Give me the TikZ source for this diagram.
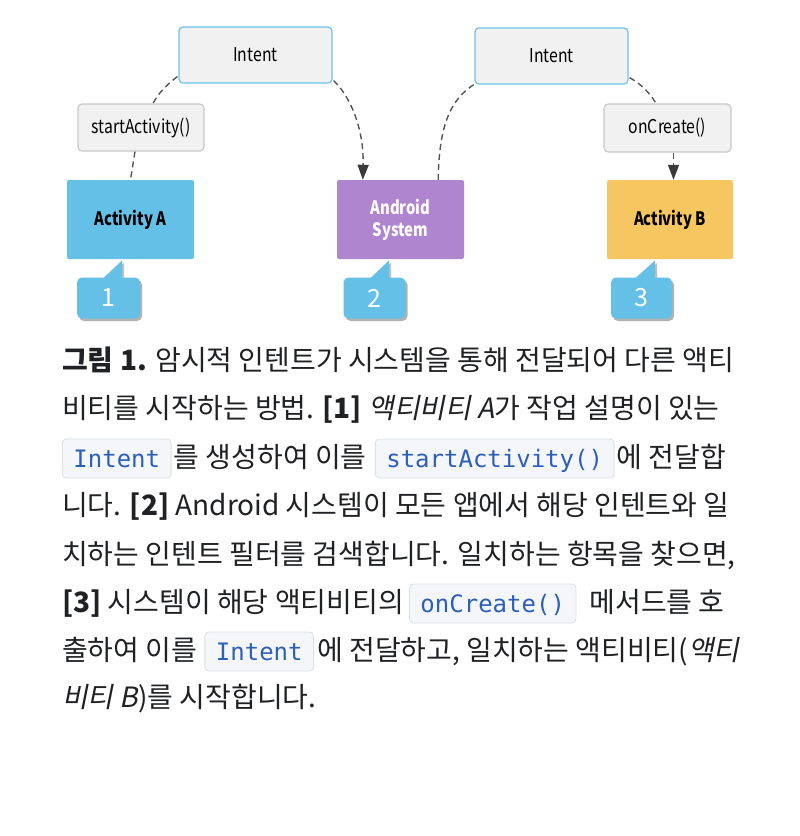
\documentclass[tikz,border=0pt]{standalone}
\usepackage{graphicx}
\usepackage{fontspec}
\setmainfont{Noto Sans CJK KR}
\newfontfamily\slfont[FakeSlant=0.2]{Noto Sans CJK KR}
\newfontfamily\codemono{DejaVu Sans Mono}
\usetikzlibrary{arrows.meta,shadows,calc}
\definecolor{ink}{HTML}{202124}
\definecolor{boxgray}{HTML}{F1F1F1}
\definecolor{intentborder}{HTML}{6CC3E9}
\definecolor{grayborder}{HTML}{C9C9C9}
\definecolor{actAcol}{HTML}{65C0E7}
\definecolor{syscol}{HTML}{B085CF}
\definecolor{actBcol}{HTML}{F6C661}
\definecolor{conncol}{HTML}{555555}
\definecolor{tipcol}{HTML}{3A3A3A}
\definecolor{codebg}{HTML}{F4F6F9}
\definecolor{codeborder}{HTML}{DDE0E5}
\definecolor{codeblue}{HTML}{2B5FB8}
\newcommand\bodyhs{1.0}
\newcommand\bodyfont{\fontsize{28}{34}\selectfont}
\newcommand\bl[1]{\scalebox{\bodyhs}[1]{#1}}
\newcommand\dl[1]{\scalebox{0.83}[1]{#1}}
\newcommand\db[1]{\scalebox{0.8}[1]{#1}}
\tikzset{
  dlabel/.style={font=\fontsize{19}{22}\selectfont, text=black, inner sep=0},
  intentbox/.style={dlabel, draw=intentborder, fill=boxgray, rounded corners=4pt, line width=1.2pt, minimum width=153pt, minimum height=56pt},
  methodbox/.style={dlabel, draw=grayborder, fill=boxgray, rounded corners=4pt, line width=1.2pt, minimum width=126pt, minimum height=47pt},
  actbox/.style={inner sep=0, rounded corners=2pt, minimum width=127pt, minimum height=79pt, align=center, font=\bfseries\fontsize{18.5}{22}\selectfont},
  callbox/.style={fill=actAcol, rounded corners=5pt, minimum width=62pt, minimum height=41pt, inner sep=0, text=white, font=\fontsize{25}{28}\selectfont, drop shadow={shadow xshift=2pt, shadow yshift=-2.5pt, opacity=0.3, fill=black}},
  calltail/.style={fill=actAcol, drop shadow={shadow xshift=2pt, shadow yshift=-2.5pt, opacity=0.25, fill=black}},
  conn/.style={draw=conncol, line width=1.4pt, dash pattern=on 6pt off 4pt},
  arr/.style={-{Triangle[width=11pt,length=15pt,fill=tipcol,color=tipcol]}},
  txt/.style={inner sep=0, anchor=base west, text=ink, font=\bodyfont},
  code/.style={anchor=base west, draw=codeborder, fill=codebg, rounded corners=4pt, line width=0.9pt, text=codeblue, font=\codemono\fontsize{24}{28}\selectfont, inner xsep=11pt, inner ysep=0, text height=28pt, text depth=11pt}
}
\begin{document}
\begin{tikzpicture}[x=1pt,y=-1pt]
\fill[white] (0,0) rectangle (800,836);
\useasboundingbox (0,0) rectangle (800,836);

% diagram boxes
\node[intentbox] (int1) at (255.5,55) {\dl{Intent}};
\node[methodbox] (sa) at (141,127.5) {\dl{startActivity()}};
\node[actbox, fill=actAcol, text=black] (actA) at (130.5,219.5) {\db{Activity A}};
\node[actbox, fill=syscol, text=white] (sys) at (400.5,219.5) {\db{Android}\\\db{System}};
\node[intentbox] (int2) at (551.5,56) {\dl{Intent}};
\node[methodbox, minimum width=127pt, minimum height=48pt] (oc) at (667.5,128) {\dl{onCreate()}};
\node[actbox, fill=actBcol, text=black, minimum width=126pt] (actB) at (670,219.5) {\db{Activity B}};

% callouts
\coordinate (p1) at (108.5,298);
\coordinate (p2) at (374.5,298);
\coordinate (p3) at (641.5,298);
\fill[calltail] ($(p1)+(-5.5,-19.5)$) -- ($(p1)+(13.5,-37.5)$) -- ($(p1)+(13.5,-19.5)$) -- cycle;
\fill[calltail] ($(p2)+(-4.5,-19.5)$) -- ($(p2)+(14.5,-37.5)$) -- ($(p2)+(14.5,-19.5)$) -- cycle;
\fill[calltail] ($(p3)+(-6.5,-19.5)$) -- ($(p3)+(13.5,-37.5)$) -- ($(p3)+(13.5,-19.5)$) -- cycle;
\node[callbox, minimum width=63pt] (n1) at (p1) {1};
\node[callbox] (n2) at (p2) {2};
\node[callbox, minimum width=61pt] (n3) at (p3) {3};

% connectors
\draw[conn] ($(int1.south west)+(-1,-7)$) .. controls (166,85) and (158,94) .. ($(sa.north)+(12,0)$);
\draw[conn] ($(sa.south)+(-6,0)$) -- (actA.north);
\draw[conn, arr] ($(int1.south east)+(1,-3)$) .. controls (350,96) and (364,128) .. ($(sys.north west)+(26,0)$);
\draw[conn] ($(sys.north east)+(-26,0)$) .. controls (439,126) and (450,99) .. ($(int2.south west)+(1,-1)$);
\draw[conn] ($(int2.south east)+(1,-7)$) .. controls (641,84) and (650,93) .. ($(oc.north)+(-11.5,0)$);
\draw[conn, arr] ($(oc.south)+(6,0)$) -- ($(actB.north)+(3.5,0)$);

% caption
\node[txt] (l1) at (62,370) {\bl{{\bfseries 그림 1.} 암시적 인텐트가 시스템을 통해 전달되어 다른 액티}};
\node[txt] (l2) at (62,418) {\bl{비티를 시작하는 방법. {\bfseries [1]} {\slfont 액티비티 A}가 작업 설명이 있는}};
\node[code] (l3a) at (62,467) {Intent};
\node[txt] (l3b) at ($(l3a.base east)+(2,0)$) {\bl{를 생성하여 이를}};
\node[code] (l3c) at ($(l3b.base east)+(8,0)$) {startActivity()};
\node[txt] (l3d) at ($(l3c.base east)+(2,0)$) {\bl{에 전달합}};
\node[txt] (l4) at (62,515) {\bl{니다. {\bfseries [2]} Android 시스템이 모든 앱에서 해당 인텐트와 일}};
\node[txt] (l5) at (62,564) {\bl{치하는 인텐트 필터를 검색합니다. 일치하는 항목을 찾으면,}};
\node[txt] (l6a) at (62,612) {\bl{{\bfseries [3]} 시스템이 해당 액티비티의}};
\node[code] (l6b) at ($(l6a.base east)+(5,0)$) {onCreate()};
\node[txt] (l6c) at ($(l6b.base east)+(13,0)$) {\bl{메서드를 호}};
\node[txt] (l7a) at (62,660) {\bl{출하여 이를}};
\node[code] (l7b) at ($(l7a.base east)+(7,0)$) {Intent};
\node[txt] (l7c) at ($(l7b.base east)+(3,0)$) {\bl{에 전달하고, 일치하는 액티비티({\slfont 액티}}};
\node[txt] (l8) at (62,707) {\bl{{\slfont 비티 B})를 시작합니다.}};
\end{tikzpicture}
\end{document}
